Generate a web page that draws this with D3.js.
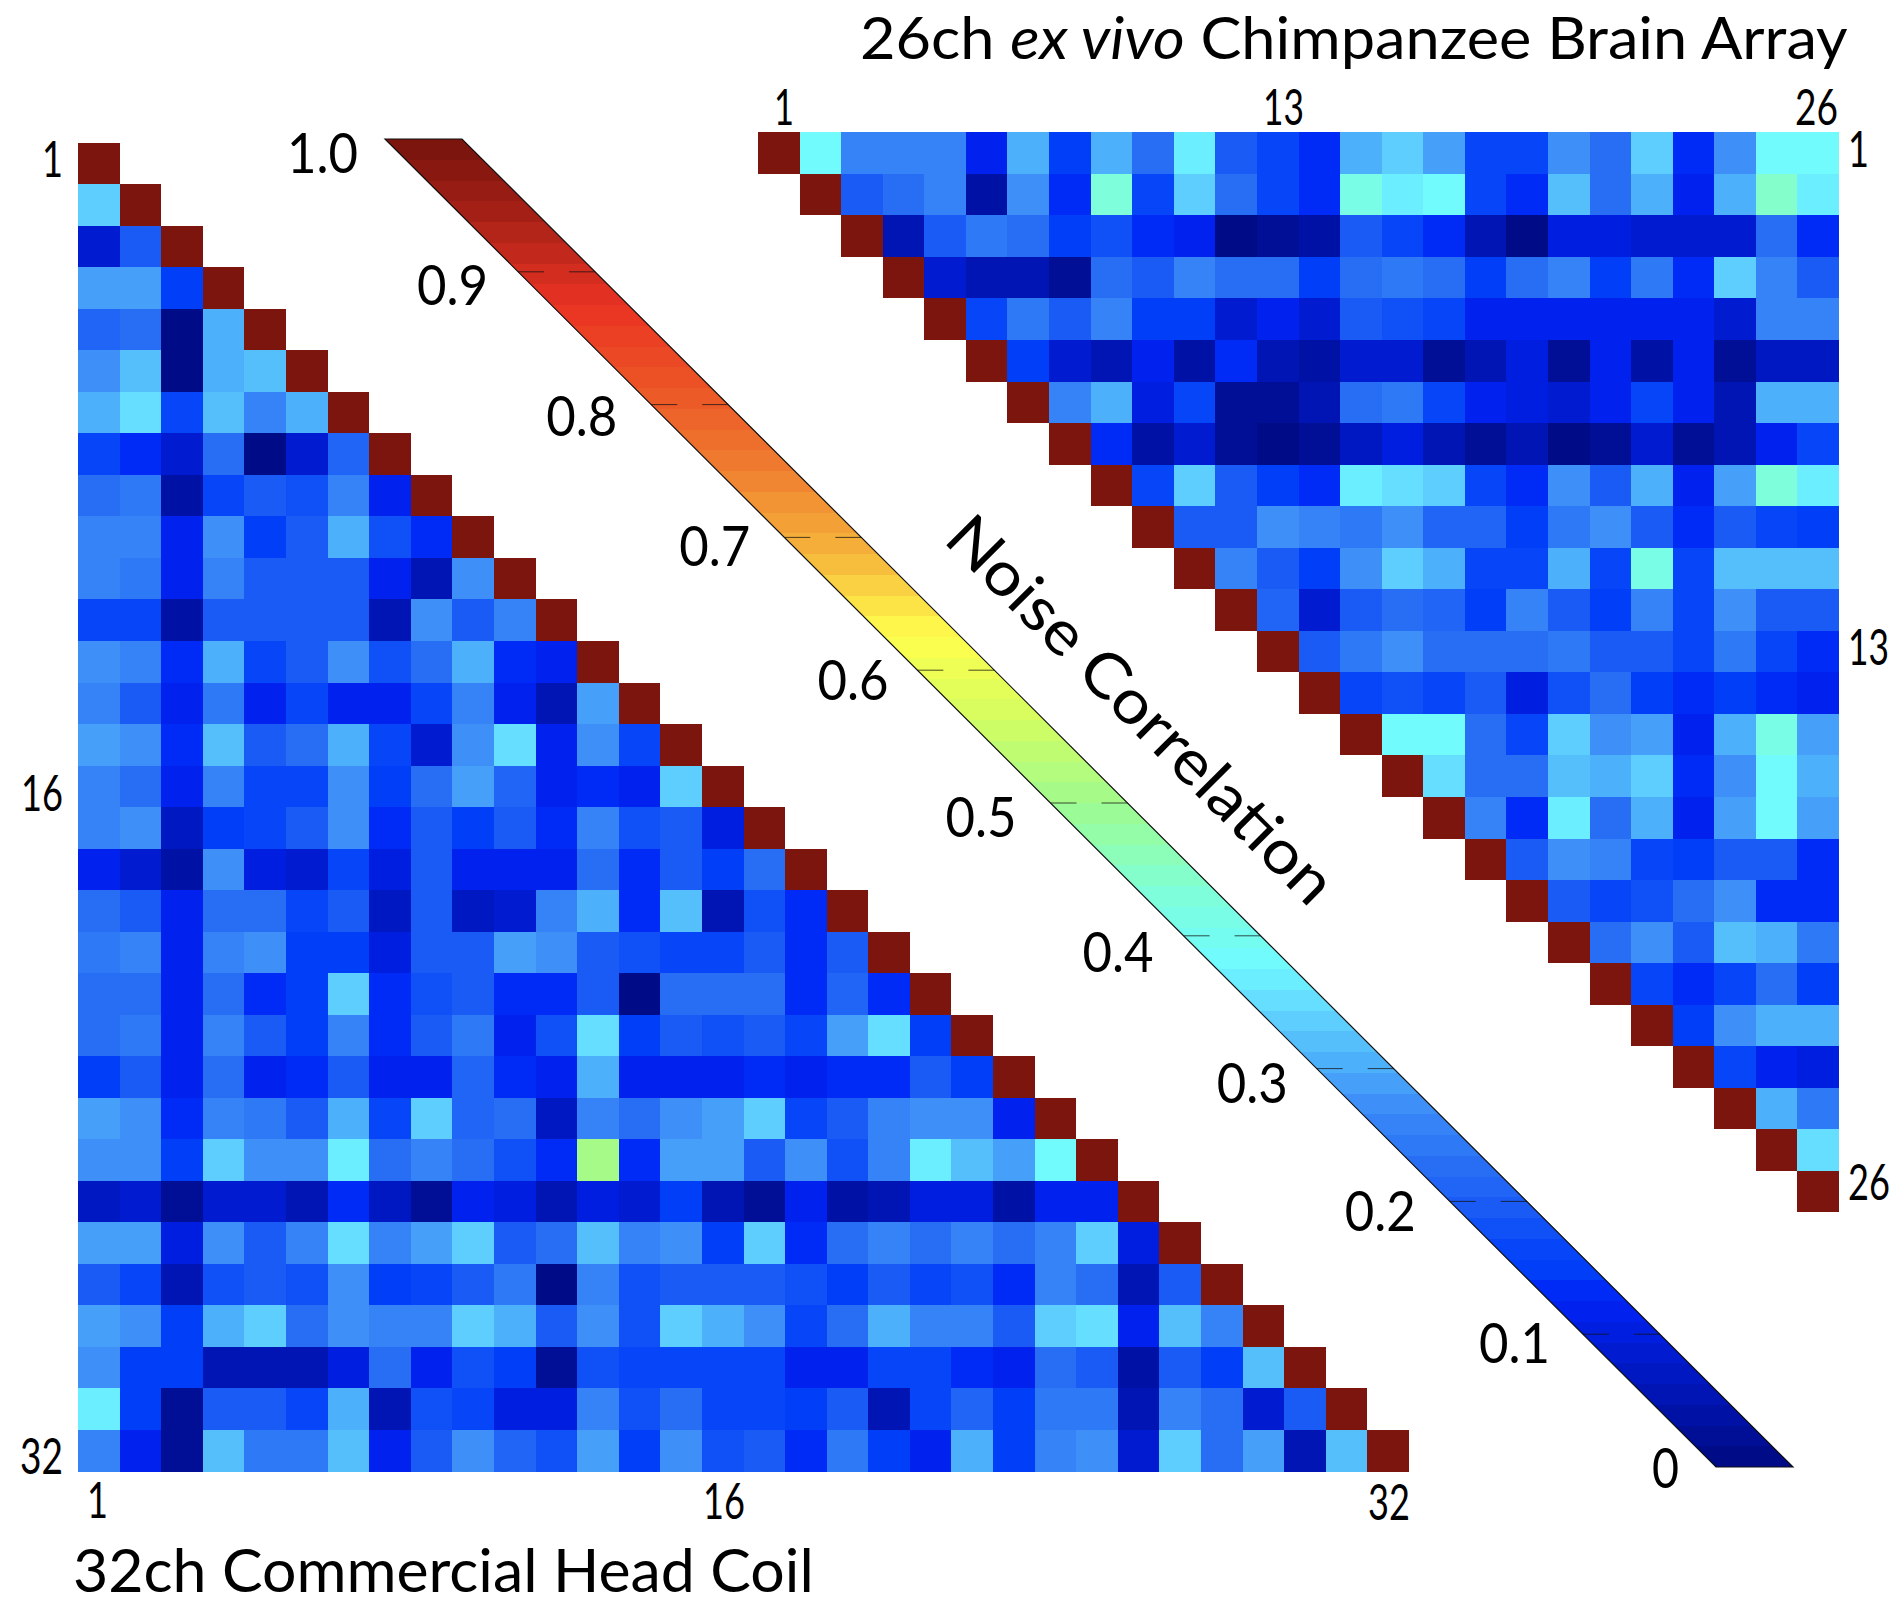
<!DOCTYPE html>
<html lang="en">
<head>
<meta charset="utf-8">
<title>Noise Correlation</title>
<script src="https://d3js.org/d3.v7.min.js"></script>
<style>
  html, body { margin: 0; background: #fff; }
  text { font-family: Lato, "Open Sans", sans-serif; fill: #000; }
</style>
</head>
<body>
<div id="chart"></div>
<script>
// noise correlation x100. diagonal is always 1

// 32ch coil, lower triangle: row r holds columns 0..r-1
var head32 = [
  [],
  [34],
  [8,20],
  [29,29,15],
  [21,22,1,30],
  [27,32,1,30,32],
  [31,35,17,32,25,30],
  [16,13,9,23,1,8,21],
  [23,24,4,17,20,18,26,12],
  [25,26,11,28,15,20,31,18,14],
  [25,24,11,26,19,19,20,11,6,28],
  [17,17,4,19,19,20,20,5,27,19,26],
  [27,26,13,30,17,20,27,18,22,30,13,11],
  [26,20,11,24,12,16,11,11,16,26,11,5,29],
  [29,28,13,32,19,23,31,17,9,27,35,11,28,16],
  [26,23,12,26,17,17,27,15,23,29,21,12,13,12,34],
  [26,28,7,15,17,19,27,14,19,15,20,14,26,18,20,10],
  [11,8,4,28,10,9,17,10,19,12,12,12,22,13,20,15,22],
  [23,19,11,22,22,17,20,7,20,7,8,26,30,13,32,5,18,14],
  [24,26,12,26,28,15,15,10,19,19,29,27,19,18,17,16,19,13,20],
  [22,22,11,22,13,15,34,13,18,20,14,14,20,1,23,22,22,14,21,14],
  [23,24,12,25,20,15,26,13,19,24,11,18,35,15,19,18,19,17,29,35,15],
  [15,19,11,22,12,14,20,11,11,21,13,12,31,12,12,11,14,11,13,13,19,15],
  [29,28,13,25,24,19,30,17,33,21,23,7,25,23,27,29,33,17,19,25,27,27,12],
  [27,27,15,34,27,27,36,23,25,23,18,13,50,13,29,29,19,27,18,26,36,32,29,38],
  [7,8,3,9,9,6,13,7,3,11,10,5,10,9,15,6,3,11,4,5,10,10,4,12,12],
  [29,29,10,27,20,25,35,25,29,34,19,23,32,25,27,15,33,13,23,26,23,25,22,25,33,10],
  [20,17,5,18,19,18,27,15,16,20,24,1,26,18,19,20,20,18,15,19,17,18,14,26,23,5,19],
  [29,27,15,30,33,23,27,25,25,33,31,19,28,18,33,31,27,17,22,30,26,26,19,34,35,11,32,26],
  [27,15,15,5,5,5,10,23,11,18,15,3,18,17,17,16,16,11,11,16,16,14,12,22,20,4,19,15,32],
  [36,15,3,19,19,17,30,6,18,17,10,10,26,18,22,17,17,15,19,6,16,21,15,24,24,6,26,23,8,19],
  [25,12,3,32,24,24,32,11,19,28,21,18,29,15,28,18,20,14,24,15,12,30,15,26,27,8,33,23,29,5,32]
];

// 26ch array, upper triangle: row r holds columns r+1..25
var brain26 = [
  [38,25,25,25,12,30,15,30,23,36,20,16,14,31,34,29,17,16,27,23,33,13,28,39,39],
  [20,23,25,4,28,13,43,17,33,22,17,14,41,37,38,17,14,32,23,31,11,30,44,36],
  [5,19,24,22,15,18,14,12,1,3,4,19,16,13,6,1,10,10,9,8,8,22,14],
  [9,6,6,2,23,19,26,23,23,15,23,24,22,15,23,26,15,24,14,34,26,19],
  [17,24,20,25,15,15,8,11,9,20,18,16,12,11,12,12,12,11,9,25,25],
  [15,9,6,12,4,13,6,4,8,8,3,5,10,2,11,4,11,3,7,7],
  [26,31,10,17,3,3,6,23,24,17,11,10,9,11,17,11,6,31,30],
  [14,4,8,3,1,3,7,10,5,2,5,1,3,9,3,5,11,16],
  [17,33,19,15,13,36,35,33,16,14,28,19,31,11,29,43,37],
  [20,20,27,25,24,27,21,21,15,24,27,20,13,19,17,15],
  [26,19,15,28,33,30,16,17,30,16,41,16,32,32,32],
  [21,8,19,22,21,15,26,20,15,26,16,27,20,20],
  [20,24,27,23,22,22,24,20,19,16,24,16,13],
  [16,18,17,19,10,18,22,15,13,15,13,11],
  [39,39,22,16,33,27,29,12,30,41,29],
  [35,23,22,32,31,34,14,28,38,31],
  [25,13,37,23,30,12,29,38,29],
  [20,27,25,17,15,19,19,14],
  [19,16,18,23,27,14,14],
  [23,27,19,32,31,24],
  [17,13,16,22,15],
  [15,28,30,30],
  [16,11,10],
  [30,24],
  [35],
  []
];

var colorTicks = [0,0.1,0.2,0.3,0.4,0.5,0.6,0.7,0.8,0.9,1];
var colorTickText = ["0","0.1","0.2","0.3","0.4","0.5","0.6","0.7","0.8","0.9","1.0"];

// the jet map as it looks in the picture
var jetStops = [0,0.125,0.15,0.17,0.19,0.23,0.27,0.31,0.35,0.38,0.4375,0.5,0.5625,0.625,0.6875,0.75,0.8125,0.875,0.9375,1];
var jetColors = ["#000a80","#0022f5","#0040f8","#0848f8","#1858f5","#2870f5","#3c8cf8","#50b5fb","#64dcff","#70fbff",
                 "#80ffd4","#9ffb8e","#d4fd60","#ffff4d","#f6b53b","#ef7f30","#ec5526","#ea3323","#ab2217","#75130c"];
var levels = 64;

var W = 1898, H = 1616;

var svg = d3.select("#chart").append("svg")
  .attr("width", W)
  .attr("height", H);

var jet = d3.scaleLinear().domain(jetStops).range(jetColors);
function levelColor(v) {
  var i = Math.min(levels - 1, Math.floor(v * levels));
  return jet((i + 0.5) / levels);
}

// one matrix: band scales for position, colour from the map
function drawMatrix(rows, n, x0, x1, y0, y1, offset) {
  var x = d3.scaleBand().domain(d3.range(n)).range([x0, x1]);
  var y = d3.scaleBand().domain(d3.range(n)).range([y0, y1]);
  var cells = [];
  rows.forEach(function(row, r) {
    row.forEach(function(v, k) {
      cells.push({r: r, c: offset(r) + k, v: v / 100});
    });
    cells.push({r: r, c: r, v: 1});
  });
  svg.append("g").selectAll("rect")
    .data(cells)
    .enter().append("rect")
      .attr("x", function(d) { return x(d.c); })
      .attr("y", function(d) { return y(d.r); })
      .attr("width", x.bandwidth())
      .attr("height", y.bandwidth())
      .attr("fill", function(d) { return levelColor(d.v); })
      .attr("shape-rendering", "crispEdges");
}

drawMatrix(head32, 32, 78, 1409, 142.7, 1471.5, function() { return 0; });
drawMatrix(brain26, 26, 758, 1839, 132.3, 1212.4, function(r) { return r + 1; });

// squeeze a label to the width it has in the picture
function label(str, x0, x1, base, size) {
  var t = svg.append("text").attr("font-size", size).text(str);
  var k = (x1 - x0) / t.node().getComputedTextLength();
  t.attr("transform", "translate(" + x0 + "," + base + ") scale(" + k + ",1)");
  return t;
}

// channel numbers
label("1", 42, 63, 176.7, 50);
label("16", 21, 63, 810.7, 50);
label("32", 20, 63, 1474, 50);
label("1", 87, 108, 1518, 50);
label("16", 703, 745, 1519, 50);
label("32", 1368, 1410, 1519.7, 50);
label("1", 774, 794, 125, 50);
label("13", 1263, 1304, 125, 50);
label("26", 1795, 1838, 125, 50);
label("1", 1848, 1869, 166.7, 50);
label("13", 1848, 1889, 665, 50);
label("26", 1848, 1890, 1199.7, 50);

// colour bar: a slanted strip, value runs along y
var barY = d3.scaleLinear().domain([0, 1]).range([1467, 139]);
var barLeft = d3.scaleLinear().domain([0, 1]).range([1716, 385]);
var barWidth = 77;
var strip = [[barLeft(1), barY(1)], [barLeft(1) + barWidth, barY(1)],
             [barLeft(0) + barWidth, barY(0)], [barLeft(0), barY(0)]];

svg.append("clipPath").attr("id", "strip")
  .append("polygon").attr("points", strip.join(" "));

svg.append("g").attr("clip-path", "url(#strip)")
  .selectAll("rect")
  .data(d3.range(levels))
  .enter().append("rect")
    .attr("x", barLeft(1))
    .attr("width", barLeft(0) - barLeft(1) + barWidth)
    .attr("y", function(i) { return barY((i + 1) / levels); })
    .attr("height", barY(0) - barY(1 / levels))
    .attr("fill", function(i) { return jet((i + 0.5) / levels); })
    .attr("shape-rendering", "crispEdges");

svg.append("polygon")
  .attr("points", strip.join(" "))
  .attr("fill", "none")
  .attr("stroke", "#111")
  .attr("stroke-width", 1.2);

// little ticks from both edges of the strip
var inner = colorTicks.slice(1, -1);
[[0, 26], [barWidth - 26, barWidth]].forEach(function(span) {
  svg.append("g").selectAll("line")
    .data(inner)
    .enter().append("line")
      .attr("x1", function(v) { return barLeft(v) + span[0]; })
      .attr("x2", function(v) { return barLeft(v) + span[1]; })
      .attr("y1", function(v) { return barY(v); })
      .attr("y2", function(v) { return barY(v); })
      .attr("stroke", "#111")
      .attr("stroke-opacity", 0.75)
      .attr("stroke-width", 1);
});

// bar labels were placed by hand in the original, so each has its own nudge
var gapX = [37, 33, 34, 29, 30, 34, 29, 34, 34, 30, 27];
var dropY = [20.5, 29, 29.6, 34, 36, 34, 30, 28.4, 31, 33, 34];
colorTicks.forEach(function(v, i) {
  var right = barLeft(v) - gapX[i];
  label(colorTickText[i], right - (i == 0 ? 27 : 71), right, barY(v) + dropY[i], 56);
});

// titles
var title = svg.append("text").attr("font-size", 59);
title.append("tspan").text("26ch ");
title.append("tspan").attr("font-style", "italic").text("ex vivo");
title.append("tspan").text(" Chimpanzee Brain Array");
var k = (1848 - 860) / title.node().getComputedTextLength();
title.attr("transform", "translate(860,59) scale(" + k + ",1)");

label("32ch Commercial Head Coil", 73, 814, 1592, 60);

var noise = svg.append("text").attr("font-size", 62).text("Noise Correlation");
var kn = 520 / noise.node().getComputedTextLength();
noise.attr("transform", "translate(942,541) rotate(45) scale(" + kn + ",1)");
</script>
</body>
</html>
